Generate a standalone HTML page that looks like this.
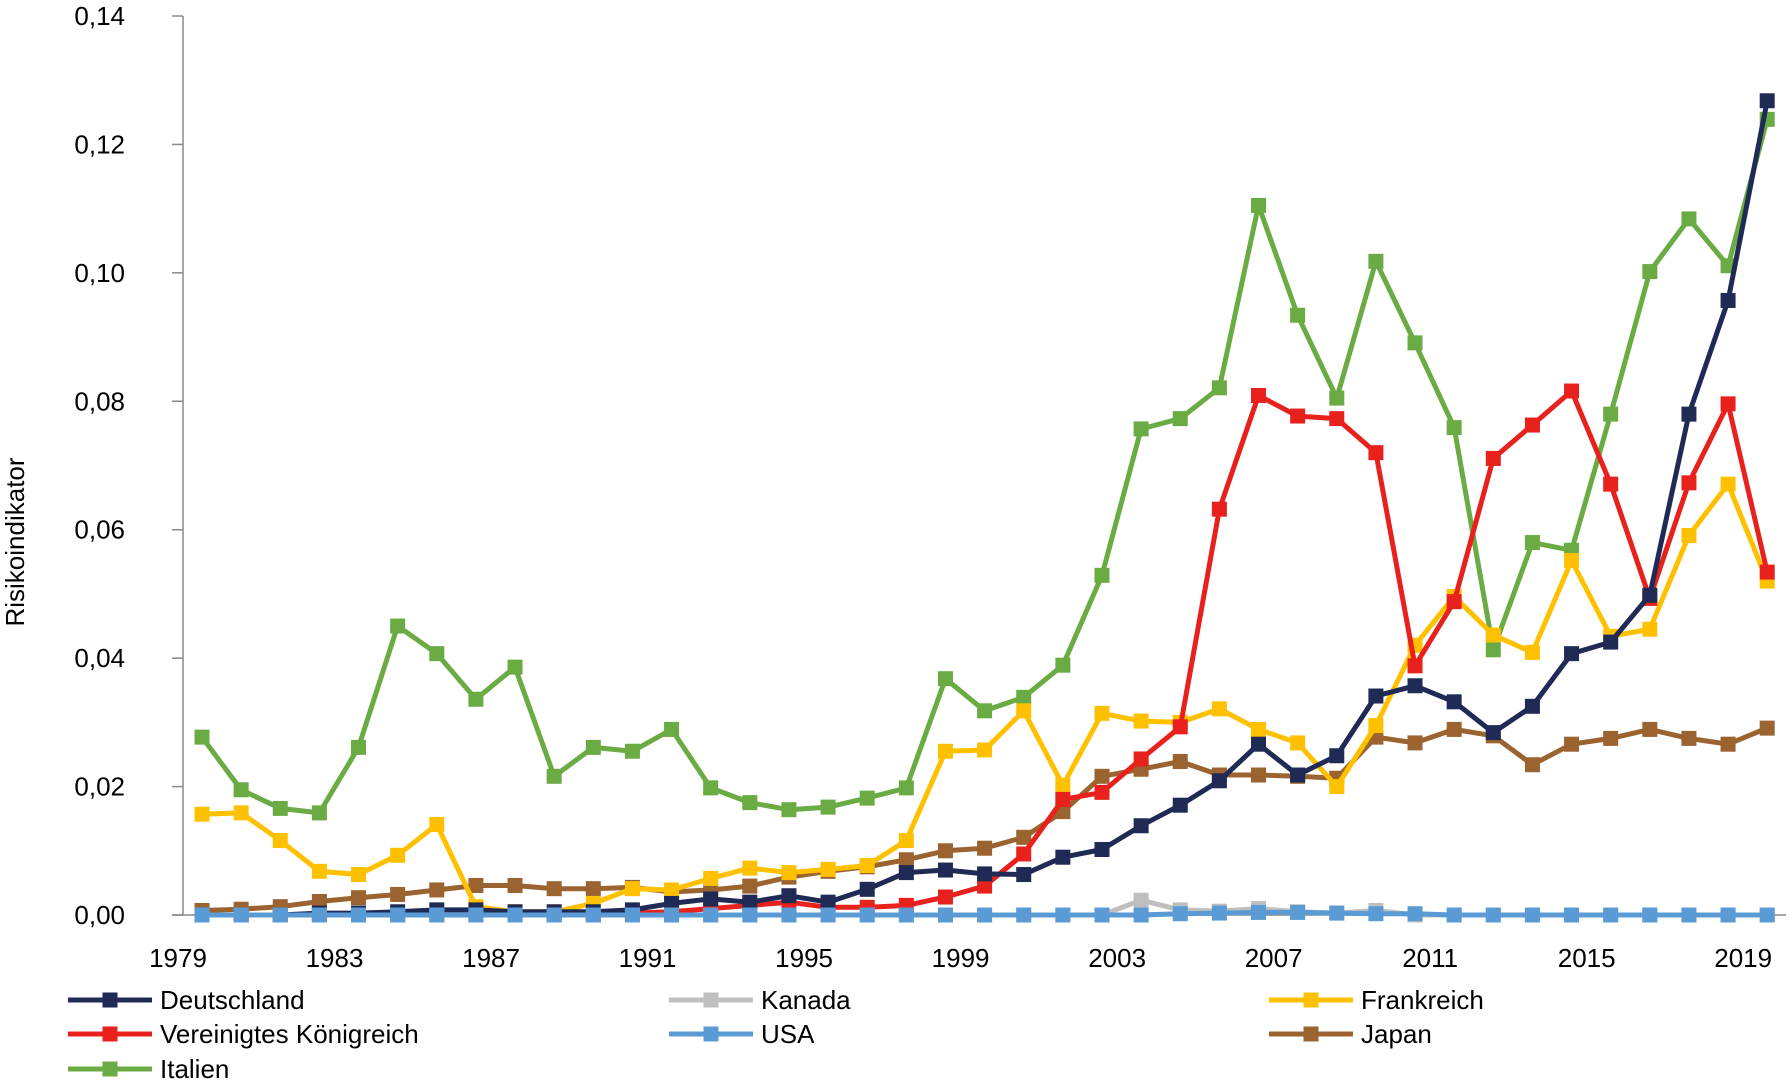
<!DOCTYPE html>
<html><head><meta charset="utf-8"><style>
html,body{margin:0;padding:0;background:#fff;}
svg{display:block;font-family:"Liberation Sans Narrow","Liberation Sans",sans-serif;}
</style></head><body>
<svg id="chart" width="1790" height="1090" viewBox="0 0 1790 1090" xmlns="http://www.w3.org/2000/svg">
<g id="axes"></g>
<g id="series"></g>
<g id="legend"></g>
<text x="0" y="0" transform="translate(24,542) rotate(-90)" text-anchor="middle" font-size="26" fill="#000">Risikoindikator</text>
</svg>
<script>
const years = [];
for (let y = 1979; y <= 2019; y++) years.push(y);
const yTicks = [0, 0.02, 0.04, 0.06, 0.08, 0.10, 0.12, 0.14];
const yTickLabels = ["0,00","0,02","0,04","0,06","0,08","0,10","0,12","0,14"];
const xTickLabels = ["1979","1983","1987","1991","1995","1999","2003","2007","2011","2015","2019"];
const seriesNames = ["Deutschland","Kanada","Frankreich","Vereinigtes Königreich","USA","Japan","Italien"];
const deutschland = [0,0,0,0.0003,0.0003,0.0005,0.0008,0.0008,0.0005,0.0005,0.0005,0.0008,0.0018,0.0025,0.002,0.003,0.002,0.004,0.0066,0.007,0.0064,0.0063,0.009,0.0102,0.0139,0.0171,0.0209,0.0266,0.0218,0.0248,0.0341,0.0357,0.0332,0.0284,0.0325,0.0407,0.0425,0.0498,0.078,0.0957,0.1268];
const kanada = [0,0,0,0,0,0,0,0,0,0,0,0,0,0,0,0,0,0,0,0,0,0,0,0,0.0023,0.0008,0.0006,0.001,0.0005,0.0003,0.0007,0,0,0,0,0,0,0,0,0,0];
const frankreich = [0.0157,0.0159,0.0116,0.0068,0.0063,0.0093,0.0141,0.0013,0.0005,0.0005,0.0018,0.0041,0.0039,0.0057,0.0073,0.0066,0.0071,0.0077,0.0116,0.0255,0.0257,0.0318,0.0202,0.0314,0.0302,0.03,0.0321,0.0289,0.0268,0.02,0.0295,0.042,0.0496,0.0436,0.0409,0.0552,0.0434,0.0445,0.0591,0.0671,0.052];
const vk = [0,0,0,0,0,0,0,0,0,0,0,0.0003,0.0005,0.001,0.0015,0.002,0.0012,0.0012,0.0015,0.0028,0.0045,0.0095,0.018,0.0191,0.0243,0.0293,0.0632,0.0809,0.0777,0.0773,0.072,0.0388,0.0488,0.0711,0.0763,0.0816,0.0671,0.0493,0.0673,0.0796,0.0534];
const usa = [0,0,0,0,0,0,0,0,0,0,0,0,0,0,0,0,0,0,0,0,0,0,0,0,0,0.0002,0.0003,0.0004,0.0004,0.0003,0.0002,0.0002,0,0,0,0,0,0,0,0,0];
const japan = [0.0007,0.0009,0.0013,0.0021,0.0027,0.0032,0.0039,0.0046,0.0046,0.0041,0.0041,0.0043,0.0036,0.0039,0.0045,0.0059,0.0068,0.0075,0.0086,0.01,0.0104,0.0121,0.0161,0.0216,0.0227,0.0239,0.0218,0.0218,0.0216,0.0213,0.0277,0.0268,0.0289,0.0279,0.0234,0.0266,0.0275,0.0289,0.0275,0.0266,0.0291];
const italien = [0.0277,0.0195,0.0166,0.0159,0.0261,0.045,0.0407,0.0336,0.0386,0.0216,0.0261,0.0255,0.0289,0.0198,0.0175,0.0164,0.0168,0.0182,0.0198,0.0368,0.0318,0.0339,0.0389,0.0529,0.0757,0.0773,0.0821,0.1105,0.0934,0.0805,0.1018,0.0891,0.0759,0.0413,0.058,0.0568,0.078,0.1002,0.1084,0.1011,0.1239];

const NS = "http://www.w3.org/2000/svg";
const X0 = 202, DX = 39.13, Y0 = 915, YTOP = 16, YMAX = 0.14;
function xs(i){ return X0 + i*DX; }
function ys(v){ return Y0 - v/YMAX*(Y0-YTOP); }
function mk(tag, attrs, parent){ const e=document.createElementNS(NS,tag); for(const k in attrs) e.setAttribute(k,attrs[k]); parent.appendChild(e); return e; }

const axes = document.getElementById('axes');
let ya = mk('line',{x1:183,y1:YTOP,x2:183,y2:Y0,stroke:'#888','stroke-width':1.5},axes);


let xa = mk('line',{x1:172,y1:Y0,x2:1786,y2:Y0,stroke:'#888','stroke-width':1.5},axes);


yTicks.forEach((t,k)=>{
  const y=ys(t);
  const tk=mk('line',{x1:172,y1:y,x2:183,y2:y,stroke:'#888','stroke-width':1.5},axes);
  
  
  const tx=mk('text',{x:125,y:y+9,'text-anchor':'end','font-size':26,fill:'#000'},axes);
  tx.textContent=yTickLabels[k];
  
  
});
xTickLabels.forEach(lbl=>{
  const i = years.indexOf(parseInt(lbl));
  const tx=mk('text',{x:xs(i)-24,y:967,'text-anchor':'middle','font-size':26,fill:'#000'},axes);
  tx.textContent=lbl;
  
  
});

const colors = {"Deutschland":"#1f2a55","Kanada":"#bfbfbf","Frankreich":"#ffc000","Vereinigtes Königreich":"#e8211d","USA":"#5b9bd5","Japan":"#9a6330","Italien":"#6aab44"};
const dataMap = {"Deutschland":deutschland,"Kanada":kanada,"Frankreich":frankreich,"Vereinigtes Königreich":vk,"USA":usa,"Japan":japan,"Italien":italien};
const drawOrder = ["Italien","Japan","Frankreich","Vereinigtes Königreich","Deutschland","Kanada","USA"];
const sg = document.getElementById('series');
drawOrder.forEach(name=>{
  const vals=dataMap[name], c=colors[name];
  const g=mk('g',{},sg);
  
  
  const pts=vals.map((v,i)=>xs(i).toFixed(1)+','+ys(v).toFixed(1)).join(' ');
  const pl=mk('polyline',{points:pts,fill:'none',stroke:c,'stroke-width':5,'stroke-linejoin':'round'},g);
  
  
  vals.forEach((v,i)=>{
    const r=mk('rect',{x:xs(i)-7.5,y:ys(v)-7.5,width:15,height:15,fill:c},g);
    
    
  });
});

const lg=document.getElementById('legend');
const legendPos = [[68,1000],[669,1000],[1269,1000],[68,1034],[669,1034],[1269,1034],[68,1069]];
seriesNames.forEach((name,k)=>{
  const [lx,ly]=legendPos[k], c=colors[name];
  const g=mk('g',{},lg);
  
  
  mk('line',{x1:lx,y1:ly,x2:lx+84,y2:ly,stroke:c,'stroke-width':5},g);
  mk('rect',{x:lx+34.5,y:ly-7.5,width:15,height:15,fill:c},g);
  const t=mk('text',{x:lx+92,y:ly+9,'font-size':26,fill:'#000'},g);
  t.textContent=name;
});
</script>
</body></html>
